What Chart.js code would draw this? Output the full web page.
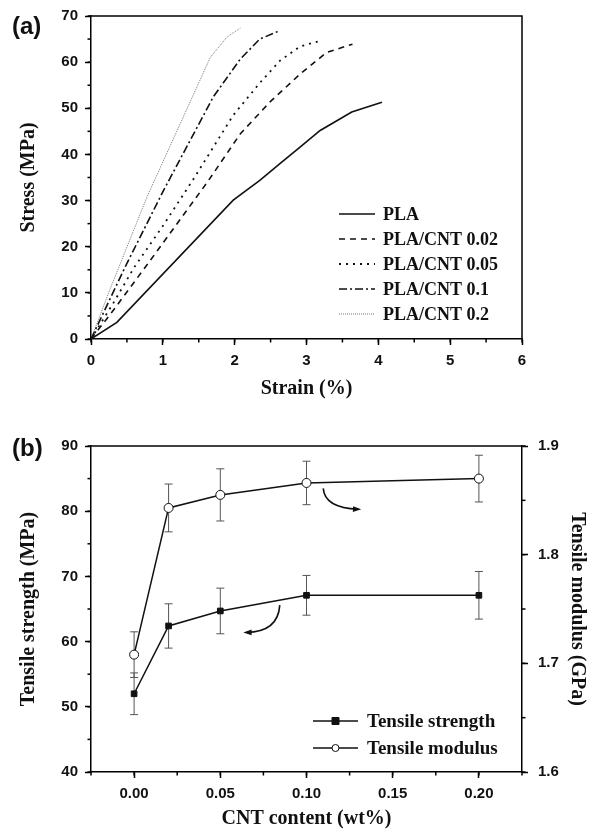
<!DOCTYPE html>
<html>
<head>
<meta charset="utf-8">
<script src="https://cdn.jsdelivr.net/npm/chart.js@4.4.0/dist/chart.umd.min.js"></script>
<style>
  html, body { margin: 0; padding: 0; background: #fff; }
  #wrap { position: relative; width: 591px; height: 838px; }
  .panel { position: absolute; left: 0; width: 591px; }
  .tag { position: absolute; left: 12px; font: bold 24px "Liberation Sans", Arial, sans-serif; color: #111; }
</style>
</head>
<body>
<div id="wrap">
  <div class="panel" style="top:0;height:405px"><canvas id="chartA" width="591" height="405"></canvas></div>
  <div class="tag" style="top:12px">(a)</div>
  <div class="panel" style="top:405px;height:433px"><canvas id="chartB" width="591" height="433"></canvas></div>
  <div class="tag" style="top:434px">(b)</div>
</div>
<script>
// (a) stress-strain curves
const strainPLA = [0, 0.36, 1.98, 2.35, 2.63, 2.91, 3.19, 3.63, 4.05];
const stressPLA = [0, 3.6, 30.1, 34.4, 38.0, 41.6, 45.2, 49.2, 51.3];
const strainCNT002 = [0, 0.3, 0.8, 1.62, 2.08, 2.5, 2.91, 3.28, 3.64];
const stressCNT002 = [0, 6.0, 16.5, 34.0, 44.5, 51.5, 57.4, 62.1, 63.9];
const strainCNT005 = [0, 0.3, 0.6, 1.0, 1.42, 1.98, 2.35, 2.63, 2.91, 3.19];
const stressCNT005 = [0, 7.5, 15.5, 24.5, 34.5, 48.5, 55.5, 60.3, 63.4, 64.6];
const strainCNT01 = [0, 0.5, 1.01, 1.70, 2.08, 2.35, 2.61];
const stressCNT01 = [0, 16.4, 32.2, 52.4, 60.7, 65.0, 66.7];
const strainCNT02 = [0, 0.26, 0.78, 1.66, 1.89, 2.08];
const stressCNT02 = [0, 10.6, 30.8, 61.0, 65.4, 67.4];
const curveNames = ['PLA', 'PLA/CNT 0.02', 'PLA/CNT 0.05', 'PLA/CNT 0.1', 'PLA/CNT 0.2'];

// (b) tensile properties vs CNT content
const cntContent = [0, 0.02, 0.05, 0.10, 0.20];
const strength = [52.0, 62.4, 64.7, 67.1, 67.1];
const strengthErr = [3.2, 3.4, 3.5, 3.05, 3.65];
const modulus = [1.708, 1.843, 1.855, 1.866, 1.870];
const modulusErr = [0.021, 0.022, 0.024, 0.020, 0.0215];
const cntTicks = [0, 0.05, 0.10, 0.15, 0.20];

const SANS = '"Liberation Sans", Arial, sans-serif';
const SERIF = '"Liberation Serif", "Times New Roman", serif';
Chart.defaults.font.family = SANS;
Chart.defaults.color = '#111';

function pts(xs, ys) {
    return xs.map((x, i) => ({ x: x, y: ys[i] }));
}

// boxes + minor ticks + error bars + arrows + legends, all in one place
const extras = {
    id: 'extras',
    beforeDatasetsDraw(chart) {
        const ctx = chart.ctx, xs = chart.scales.x;
        chart.data.datasets.forEach(ds => {
            if (!ds.errors) return;
            const ys = chart.scales[ds.yAxisID];
            ctx.save();
            ctx.strokeStyle = '#555';
            ctx.lineWidth = 1;
            ds.data.forEach((p, i) => {
                const px = xs.getPixelForValue(p.x);
                const t = ys.getPixelForValue(p.y + ds.errors[i]);
                const b = ys.getPixelForValue(p.y - ds.errors[i]);
                ctx.beginPath();
                ctx.moveTo(px, t); ctx.lineTo(px, b);
                ctx.moveTo(px - 4, t); ctx.lineTo(px + 4, t);
                ctx.moveTo(px - 4, b); ctx.lineTo(px + 4, b);
                ctx.stroke();
            });
            ctx.restore();
        });
    },
    afterDraw(chart) {
        const ctx = chart.ctx, a = chart.chartArea;
        const opts = chart.options.plugins.extras || {};
        ctx.save();
        ctx.strokeStyle = '#000';
        ctx.lineWidth = 1.5;
        // top frame line, and right one when there is no right axis
        ctx.beginPath();
        ctx.moveTo(a.left, a.top); ctx.lineTo(a.right, a.top);
        if (!chart.scales.y2) { ctx.lineTo(a.right, a.bottom); }
        ctx.stroke();

        // minor ticks
        Object.values(chart.scales).forEach(s => {
            const step = s.options.minorStep;
            if (!step) return;
            const n = Math.round((s.max - s.min) / step);
            for (let i = 0; i <= n; i++) {
                const p = s.getPixelForValue(s.min + i * step);
                ctx.beginPath();
                if (s.position === 'bottom') { ctx.moveTo(p, s.top); ctx.lineTo(p, s.top + 3.5); }
                else if (s.position === 'left') { ctx.moveTo(s.right, p); ctx.lineTo(s.right - 3.5, p); }
                else { ctx.moveTo(s.left, p); ctx.lineTo(s.left + 3.5, p); }
                ctx.stroke();
            }
        });

        // curved arrows (given in data units)
        (opts.arrows || []).forEach(ar => {
            const X = v => chart.scales.x.getPixelForValue(v);
            const Y = v => chart.scales.y.getPixelForValue(v);
            const x0 = X(ar.from[0]), y0 = Y(ar.from[1]);
            const cx = X(ar.ctrl[0]), cy = Y(ar.ctrl[1]);
            const x1 = X(ar.to[0]), y1 = Y(ar.to[1]);
            ctx.lineWidth = 1.6;
            ctx.strokeStyle = '#111';
            ctx.fillStyle = '#111';
            ctx.beginPath();
            ctx.moveTo(x0, y0);
            ctx.quadraticCurveTo(cx, cy, x1, y1);
            ctx.stroke();
            const ang = Math.atan2(y1 - cy, x1 - cx);
            ctx.beginPath();
            ctx.moveTo(x1 + 3 * Math.cos(ang), y1 + 3 * Math.sin(ang));
            ctx.lineTo(x1 - 6 * Math.cos(ang - 0.5), y1 - 6 * Math.sin(ang - 0.5));
            ctx.lineTo(x1 - 6 * Math.cos(ang + 0.5), y1 - 6 * Math.sin(ang + 0.5));
            ctx.closePath();
            ctx.fill();
        });

        // legend
        const lg = opts.legend;
        if (lg) {
            ctx.font = 'bold ' + lg.size + 'px ' + SERIF;
            ctx.textBaseline = 'middle';
            ctx.textAlign = 'left';
            chart.data.datasets.forEach((ds, i) => {
                const y = a.top + lg.top + i * lg.gap;
                ctx.strokeStyle = ds.borderColor;
                ctx.lineWidth = ds.borderWidth;
                ctx.setLineDash(ds.borderDash || []);
                ctx.beginPath();
                ctx.moveTo(a.left + lg.x0, y); ctx.lineTo(a.left + lg.x1, y);
                ctx.stroke();
                ctx.setLineDash([]);
                if (ds.pointRadius) {
                    const mx = (lg.x0 + lg.x1) / 2 + a.left;
                    ctx.lineWidth = 1;
                    ctx.strokeStyle = '#111';
                    ctx.fillStyle = ds.pointBackgroundColor;
                    ctx.beginPath();
                    if (ds.pointStyle === 'rect') ctx.rect(mx - 3.5, y - 3.5, 7, 7);
                    else ctx.arc(mx, y, 3.5, 0, Math.PI * 2);
                    ctx.fill(); ctx.stroke();
                }
                ctx.fillStyle = '#111';
                ctx.fillText(ds.label, a.left + lg.text, y + 1);
            });
        }
        ctx.restore();
    }
};

const tickFont = { family: SANS, size: 15, weight: 'bold' };
const titleFont = { family: SERIF, size: 20, weight: 'bold' };
const gridOpts = { drawOnChartArea: false, drawTicks: true, tickLength: 6, tickWidth: 1.5, tickColor: '#000' };
const borderOpts = { display: true, color: '#000', width: 1.5 };

const lineStyles = [
    { borderColor: '#111', borderWidth: 1.6, borderDash: [] },
    { borderColor: '#111', borderWidth: 1.6, borderDash: [6, 5] },
    { borderColor: '#111', borderWidth: 1.8, borderDash: [2, 5] },
    { borderColor: '#111', borderWidth: 1.6, borderDash: [8, 3, 2, 3] },
    { borderColor: '#777', borderWidth: 1, borderDash: [1, 1] }
];
const curves = [
    pts(strainPLA, stressPLA), pts(strainCNT002, stressCNT002), pts(strainCNT005, stressCNT005),
    pts(strainCNT01, stressCNT01), pts(strainCNT02, stressCNT02)
];

new Chart(document.getElementById('chartA'), {
    type: 'line',
    data: {
        datasets: curves.map((c, i) => Object.assign({
            label: curveNames[i], data: c, pointRadius: 0, tension: 0, fill: false
        }, lineStyles[i]))
    },
    options: {
        responsive: false,
        animation: false,
        layout: { padding: { left: 0, top: 15, right: 69, bottom: 0 } },
        plugins: {
            legend: { display: false },
            tooltip: { enabled: false },
            extras: { legend: { size: 18, top: 198, gap: 25, x0: 248, x1: 284, text: 292 } }
        },
        scales: {
            x: {
                type: 'linear', min: 0, max: 6, minorStep: 0.5,
                ticks: { stepSize: 1, font: tickFont, color: '#111', padding: 7, maxRotation: 0 },
                grid: gridOpts, border: borderOpts,
                title: { display: true, text: 'Strain (%)', font: titleFont, color: '#111', padding: { top: 0, bottom: 4 } },
                afterFit: s => { s.height = 66; }
            },
            y: {
                type: 'linear', min: 0, max: 70, minorStep: 5,
                ticks: { stepSize: 10, font: tickFont, color: '#111', padding: 7 },
                grid: gridOpts, border: borderOpts,
                title: { display: true, text: 'Stress (MPa)', font: titleFont, color: '#111', padding: { top: 17, bottom: 0 } },
                afterFit: s => { s.width = 91; }
            }
        }
    },
    plugins: [extras]
});

new Chart(document.getElementById('chartB'), {
    type: 'line',
    data: {
        datasets: [
            {
                label: 'Tensile strength', data: pts(cntContent, strength), errors: strengthErr, yAxisID: 'y',
                borderColor: '#111', borderWidth: 1.5, tension: 0,
                pointStyle: 'rect', pointRadius: 4, pointBackgroundColor: '#111', pointBorderColor: '#111', pointBorderWidth: 1
            },
            {
                label: 'Tensile modulus', data: pts(cntContent, modulus), errors: modulusErr, yAxisID: 'y2',
                borderColor: '#111', borderWidth: 1.5, tension: 0,
                pointStyle: 'circle', pointRadius: 4.5, pointBackgroundColor: '#fff', pointBorderColor: '#111', pointBorderWidth: 1
            }
        ]
    },
    options: {
        responsive: false,
        animation: false,
        layout: { padding: { left: 0, top: 41, right: 0, bottom: 0 } },
        plugins: {
            legend: { display: false },
            tooltip: { enabled: false },
            extras: {
                legend: { size: 19, top: 275, gap: 27, x0: 222, x1: 267, text: 276 },
                arrows: [
                    { from: [0.1097, 83.5], ctrl: [0.1106, 80.5], to: [0.130, 80.3] },
                    { from: [0.0845, 65.6], ctrl: [0.0835, 61.5], to: [0.0651, 61.4] }
                ]
            }
        },
        scales: {
            x: {
                type: 'linear', min: -0.025, max: 0.225, minorStep: 0.025,
                afterBuildTicks: s => { s.ticks = cntTicks.map(v => ({ value: v })); },
                ticks: { font: tickFont, color: '#111', padding: 7, maxRotation: 0,
                    callback: v => v.toFixed(2) },
                grid: gridOpts, border: borderOpts,
                title: { display: true, text: 'CNT content (wt%)', font: titleFont, color: '#111', padding: { top: 0, bottom: 7 } },
                afterFit: s => { s.height = 66; }
            },
            y: {
                type: 'linear', position: 'left', min: 40, max: 90, minorStep: 5,
                ticks: { stepSize: 10, font: tickFont, color: '#111', padding: 7 },
                grid: gridOpts, border: borderOpts,
                title: { display: true, text: 'Tensile strength (MPa)', font: titleFont, color: '#111', padding: { top: 17, bottom: 0 } },
                afterFit: s => { s.width = 91; }
            },
            y2: {
                type: 'linear', position: 'right', min: 1.6, max: 1.9, minorStep: 0.05,
                ticks: { stepSize: 0.1, font: tickFont, color: '#111', padding: 10, callback: v => v.toFixed(1) },
                grid: gridOpts, border: borderOpts,
                title: { display: true, text: 'Tensile modulus (GPa)', font: titleFont, color: '#111', padding: { top: 2, bottom: 0 } },
                afterFit: s => { s.width = 69; }
            }
        }
    },
    plugins: [extras]
});
</script>
</body>
</html>
